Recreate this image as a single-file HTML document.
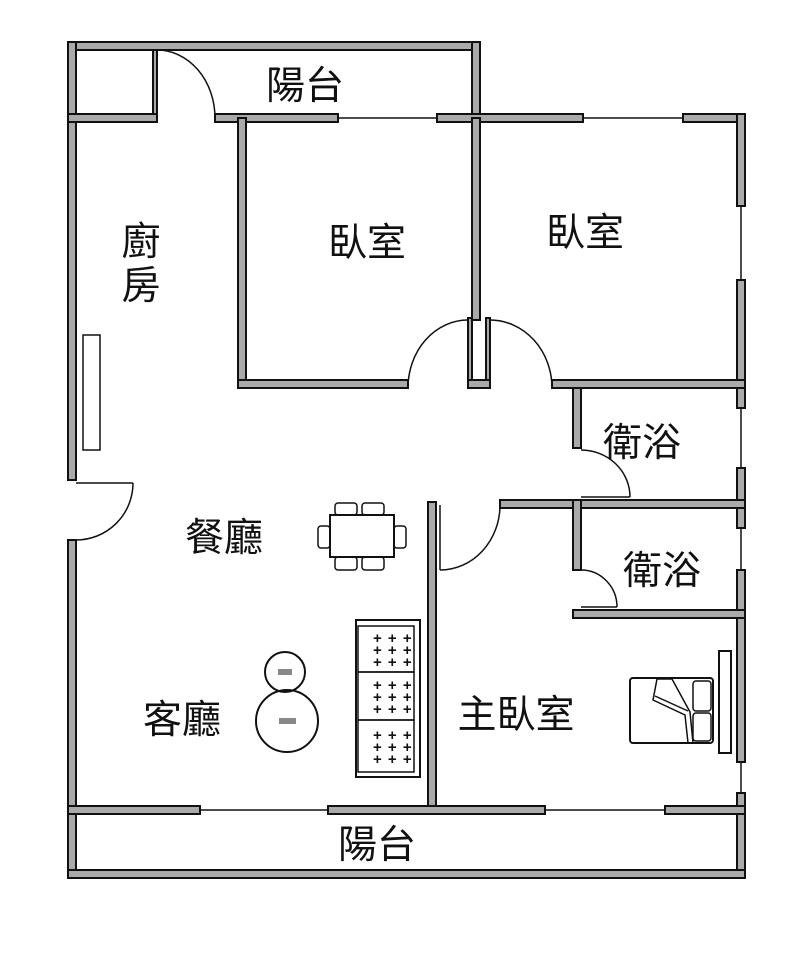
<!DOCTYPE html>
<html><head><meta charset="utf-8"><style>
html,body{margin:0;padding:0;background:#fff;width:800px;height:953px;overflow:hidden}
svg text.lbl{font-family:"Liberation Sans","Noto Sans CJK TC","Noto Sans CJK SC",sans-serif;font-size:39px;fill:#111}
svg text.pl{font-family:"Liberation Sans",sans-serif;font-size:15px;font-weight:bold;fill:#111;letter-spacing:1px}
</style></head><body>
<svg width="800" height="953" viewBox="0 0 800 953" xmlns="http://www.w3.org/2000/svg">
<g fill="#aaa" stroke="#111" stroke-width="2">
<rect x="68" y="42" width="412" height="8"/>
<rect x="68" y="42" width="8" height="438"/>
<rect x="472" y="42" width="8" height="80"/>
<rect x="153" y="50" width="4" height="68"/>
<rect x="68" y="114" width="89" height="8"/>
<rect x="215" y="114" width="123" height="8"/>
<rect x="437" y="114" width="146" height="8"/>
<rect x="683" y="114" width="62" height="8"/>
<rect x="737" y="114" width="8" height="92"/>
<rect x="737" y="280" width="8" height="128"/>
<rect x="737" y="468" width="8" height="60"/>
<rect x="737" y="570" width="8" height="192"/>
<rect x="737" y="793" width="8" height="85"/>
<rect x="238" y="118" width="8" height="270"/>
<rect x="472" y="118" width="8" height="202"/>
<rect x="468" y="318" width="4" height="70"/>
<rect x="486" y="318" width="4" height="70"/>
<rect x="468" y="380" width="22" height="8"/>
<rect x="238" y="380" width="170" height="8"/>
<rect x="552" y="380" width="193" height="8"/>
<rect x="573" y="388" width="8" height="60"/>
<rect x="500" y="500" width="245" height="8"/>
<rect x="573" y="500" width="8" height="70"/>
<rect x="573" y="610" width="172" height="8"/>
<rect x="428" y="502" width="8" height="308"/>
<rect x="68" y="540" width="8" height="338"/>
<rect x="68" y="806" width="132" height="8"/>
<rect x="328" y="806" width="217" height="8"/>
<rect x="665" y="806" width="80" height="8"/>
<rect x="68" y="870" width="677" height="8"/>
</g>
<g stroke="#111" stroke-width="1.5" fill="none">
<line x1="338" y1="118" x2="437" y2="118"/>
<line x1="583" y1="118" x2="683" y2="118"/>
<line x1="741" y1="206" x2="741" y2="280"/>
<line x1="741" y1="408" x2="741" y2="468"/>
<line x1="741" y1="528" x2="741" y2="570"/>
<line x1="741" y1="762" x2="741" y2="793"/>
<line x1="200" y1="810" x2="328" y2="810"/>
<line x1="545" y1="810" x2="665" y2="810"/>
<path d="M157 50 A58 68 0 0 1 215 118"/>
<line x1="157" y1="50" x2="157" y2="118"/>
<path d="M468 320 A60 68 0 0 0 408 388"/>
<path d="M490 320 A62 68 0 0 1 552 388"/>
<path d="M581 450 A49 47 0 0 1 630 497"/>
<line x1="581" y1="497" x2="630" y2="497"/>
<path d="M500 505 A60 65 0 0 1 440 570"/>
<line x1="440" y1="505" x2="440" y2="570"/>
<path d="M581 570 A36 37 0 0 1 617 607"/>
<line x1="581" y1="607" x2="617" y2="607"/>
<line x1="76" y1="483" x2="133" y2="483"/>
<path d="M133 483 A57 57 0 0 1 76 540"/>
<rect x="83" y="335" width="17" height="115"/>
<rect x="330" y="515" width="64" height="42" stroke-width="2"/>
<rect x="335" y="503" width="22" height="12" rx="3"/>
<rect x="362" y="503" width="22" height="12" rx="3"/>
<rect x="335" y="557" width="22" height="13" rx="3"/>
<rect x="362" y="557" width="22" height="13" rx="3"/>
<rect x="318" y="526" width="12" height="22" rx="3"/>
<rect x="394" y="526" width="12" height="22" rx="3"/>
<rect x="356" y="620" width="64" height="157" stroke-width="2"/>
<rect x="358" y="626" width="56" height="46"/>
<rect x="358" y="672" width="56" height="48"/>
<rect x="358" y="720" width="56" height="52"/>
<circle cx="285" cy="672" r="20" stroke-width="2"/>
<circle cx="287" cy="721" r="31" stroke-width="2"/>
<rect x="630" y="678" width="83" height="65" rx="3" stroke-width="2"/>
<rect x="693" y="681" width="18" height="30" rx="3"/>
<rect x="693" y="713" width="18" height="28" rx="3"/>
<path d="M657 679 L653 700 L685 715 L688 743 M657 679 L672 679 L690 712 L693 743 M655 696 L688 711"/>
<rect x="719" y="651" width="12" height="102" stroke-width="2"/>
</g>
<g>
<text class="pl" x="373" y="643">+ + +</text>
<text class="pl" x="373" y="655">+ + +</text>
<text class="pl" x="373" y="667">+ + +</text>
<text class="pl" x="373" y="690">+ + +</text>
<text class="pl" x="373" y="702">+ + +</text>
<text class="pl" x="373" y="714">+ + +</text>
<text class="pl" x="373" y="740">+ + +</text>
<text class="pl" x="373" y="752">+ + +</text>
<text class="pl" x="373" y="764">+ + +</text>
<rect x="278" y="669" width="14" height="6" fill="#888"/>
<rect x="279" y="718" width="17" height="6" fill="#888"/>
</g>
<g text-anchor="middle">
<text class="lbl" x="305" y="99">陽台</text>
<text class="lbl" x="367" y="256">臥室</text>
<text class="lbl" x="585" y="246">臥室</text>
<text class="lbl" x="141" y="255">廚</text>
<text class="lbl" x="141" y="299">房</text>
<text class="lbl" x="642" y="456">衛浴</text>
<text class="lbl" x="662" y="584">衛浴</text>
<text class="lbl" x="224" y="551">餐廳</text>
<text class="lbl" x="182" y="733">客廳</text>
<text class="lbl" x="516" y="728">主臥室</text>
<text class="lbl" x="377" y="858">陽台</text>
</g>
</svg>
</body></html>
